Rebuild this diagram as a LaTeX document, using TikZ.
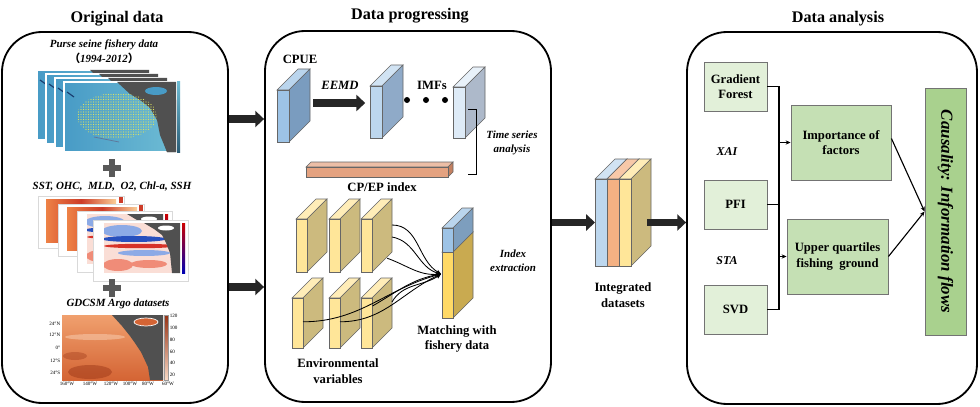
\documentclass[tikz,border=0pt]{standalone}
\usepackage{fontspec}
\setmainfont{Liberation Serif}
\newfontfamily\cjk{Noto Sans CJK SC}
\usetikzlibrary{arrows.meta,calc,fit}

\definecolor{inkdark}{RGB}{38,38,38}
\definecolor{cpueF}{RGB}{157,195,230}
\definecolor{cpueS}{RGB}{122,156,191}
\definecolor{imfaF}{RGB}{189,215,238}
\definecolor{imfaS}{RGB}{143,170,200}
\definecolor{imfcF}{RGB}{222,235,247}
\definecolor{imfcS}{RGB}{173,185,202}
\definecolor{barF}{RGB}{228,162,128}
\definecolor{barS}{RGB}{196,128,96}
\definecolor{yelF}{RGB}{255,230,153}
\definecolor{yelS}{RGB}{204,186,126}
\definecolor{matB}{RGB}{157,195,230}
\definecolor{matBS}{RGB}{125,158,190}
\definecolor{matY}{RGB}{255,217,102}
\definecolor{matYS}{RGB}{201,170,80}
\definecolor{intB}{RGB}{189,215,238}
\definecolor{intBS}{RGB}{150,175,200}
\definecolor{intO}{RGB}{244,177,131}
\definecolor{intOS}{RGB}{210,145,100}
\definecolor{grLight}{RGB}{226,240,217}
\definecolor{grMid}{RGB}{197,224,180}
\definecolor{grDark}{RGB}{169,209,142}
\definecolor{seaA}{RGB}{72,155,198}
\definecolor{seaB}{RGB}{110,188,212}
\definecolor{seaDark}{RGB}{25,60,110}
\definecolor{landgray}{RGB}{80,80,80}
\definecolor{dotyellow}{RGB}{222,228,95}
\definecolor{warmA}{RGB}{250,205,150}
\definecolor{warmB}{RGB}{238,130,70}
\definecolor{warmC}{RGB}{205,60,40}
\definecolor{anomBase}{RGB}{250,222,214}
\definecolor{anomBlue}{RGB}{40,80,190}
\definecolor{anomBlueL}{RGB}{140,170,230}
\definecolor{anomRed}{RGB}{215,50,40}
\definecolor{anomRedL}{RGB}{240,140,120}
\definecolor{argoA}{RGB}{240,160,110}
\definecolor{argoB}{RGB}{212,100,52}
\definecolor{argoC}{RGB}{150,50,20}
\definecolor{plusgray}{RGB}{89,89,89}

% 3d slab: name, x, y, width, height, depth, front colour, side colour
\newcommand{\slab}[8]{%
  \fill[#7!70!white,draw=black!60,line width=0.4pt] ({#2},{#3}) -- ++({#6},{-#6}) -- ++({#4},0) -- ++({-#6},{#6}) -- cycle;
  \fill[#8,draw=black!60,line width=0.4pt] ({#2+#4},{#3}) -- ++({#6},{-#6}) -- ++(0,{#5}) -- ++({-#6},{#6}) -- cycle;
  \node[draw=black!60,line width=0.4pt,fill=#7,inner sep=0pt,outer sep=0pt,anchor=north west,
        minimum width=#4*0.025cm,minimum height=#5*0.025cm] (#1) at ({#2},{#3}) {};
}

\begin{document}
\begin{tikzpicture}[x=0.025cm,y=-0.025cm,
    panel/.style={draw,line width=1.3pt,rounded corners=1cm,inner sep=0pt},
    title/.style={font=\fontsize{11.5}{13}\selectfont\bfseries},
    lab/.style={font=\fontsize{9}{11}\selectfont\bfseries,align=center},
    ital/.style={font=\fontsize{7.8}{10}\selectfont\bfseries\itshape,align=center},
    tick/.style={font=\fontsize{3.6}{4}\selectfont,inner sep=0.4pt},
    bigarrow/.style={draw=inkdark,line width=5pt,-{Triangle[length=0.22cm,width=0.4cm]}},
    box/.style={draw=black!55,line width=0.6pt,inner sep=1pt,align=center,font=\fontsize{9}{11}\selectfont\bfseries},
    arr/.style={line width=0.8pt,-{Stealth[length=3.5pt,width=3pt]}},
    plus/.style={draw=plusgray,line width=4.5pt},
  ]
  \useasboundingbox[fill=white] (0,0) rectangle (980,407);

  % panels
  \node[panel,fit={(2,32) (228,403)}] (orig) {};
  \node[panel,fit={(265,31) (551,402)}] (prog) {};
  \node[panel,fit={(687,32) (977,404)}] (ana) {};
  \node[title] (tOrig) at (117,19) {Original data};
  \node[title] (tProg) at (410,16) {Data progressing};
  \node[title] (tAna) at (838,19) {Data analysis};

  % original data
  \node[ital] (lPurse) at (104,45) {Purse seine fishery data};
  \node[ital] (lYears) at (104,58) {{\cjk （}1994-2012{\cjk ）}};
  \foreach \i in {0,...,3} {
    \pgfmathsetmacro\mx{37+9*\i}
    \pgfmathsetmacro\my{70+4*\i}
    \shade[left color=seaA,right color=seaB,draw=white,line width=0.8pt] (\mx,\my) rectangle (\mx+112,\my+70);
    \draw[seaDark,line width=0.8pt] (\mx+3,\my+10) -- (\mx+10,\my+15);
    \draw[seaDark!70,line width=0.5pt] (\mx+30,\my+55) -- (\mx+55,\my+60);
    \fill[landgray] (\mx+53,\my) -- (\mx+112,\my) -- (\mx+112,\my+70) -- (\mx+103,\my+70) -- (\mx+96,\my+53)
      -- (\mx+93,\my+38) -- (\mx+86,\my+26) -- (\mx+76,\my+18) -- (\mx+66,\my+12) -- cycle;
    \fill[seaA] (\mx+92,\my+9) ellipse [x radius=11,y radius=4];
  }
  \begin{scope}
    \clip (117,116) ellipse [x radius=40,y radius=23];
    \foreach \x in {76,78.5,...,158} \foreach \y in {92,94.5,...,140}
      \fill[dotyellow] (\x,\y) circle [radius=0.5pt];
  \end{scope}
  \fill[landgray] (150,100) -- (157,112) -- (160,130) -- (167,152) -- (176,152) -- (176,100) -- cycle;
  \shade[top color=seaB,bottom color=seaA!60!black] (177,82) rectangle (180,152);
  \draw[plus] (103,168) -- (121,168) (112,159) -- (112,177);

  \node[ital] (lVars) at (112,187) {SST, OHC, \ MLD, \ O2, Chl-a, SSH};
  \foreach \fx/\fy/\ix/\iy in {38/196/46/199, 58/204/67/207} {
    \fill[white,draw=black!15] (\fx,\fy) rectangle (\fx+86,\fy+52);
    \shade[left color=warmB,right color=warmA,middle color=warmC] (\ix,\iy) rectangle (\ix+70,\iy+43);
    \fill[warmC] (\fx+81,\fy+1) rectangle (\fx+85,\fy+7);
  }
  \foreach \fx/\fy/\ix/\iy in {77/211/87/214, 93/220/104/223} {
    \fill[white,draw=black!15] (\fx,\fy) rectangle (\fx+95,\fy+61);
    \begin{scope}
      \clip (\ix,\iy) rectangle (\ix+76,\iy+50);
      \fill[anomBase] (\ix,\iy) rectangle (\ix+76,\iy+50);
      \fill[anomBlueL] (\ix+18,\iy+8) ellipse [x radius=20,y radius=6];
      \fill[anomBlue] (\ix+30,\iy+16) ellipse [x radius=32,y radius=3];
      \fill[anomRed] (\ix+36,\iy+23) ellipse [x radius=36,y radius=2.2];
      \fill[anomBlueL] (\ix+40,\iy+30) ellipse [x radius=26,y radius=3];
      \fill[anomRedL] (\ix+14,\iy+42) ellipse [x radius=15,y radius=6];
      \fill[anomRedL] (\ix+45,\iy+41) ellipse [x radius=18,y radius=4];
      \fill[landgray] (\ix+40,\iy) -- (\ix+76,\iy) -- (\ix+76,\iy+50) -- (\ix+68,\iy+50) -- (\ix+66,\iy+30)
        -- (\ix+62,\iy+20) -- (\ix+58,\iy+12) -- (\ix+50,\iy+6) -- cycle;
      \fill[white] (\ix+62,\iy+5) ellipse [x radius=8,y radius=2.5];
    \end{scope}
    \shade[top color=red!80!black,middle color=white,bottom color=blue!70!black] (\ix+78,\iy) rectangle (\ix+81,\iy+50);
  }
  \draw[plus] (103,288) -- (121,288) (112,279) -- (112,297);

  \node[ital] (lArgo) at (118,304) {GDCSM Argo datasets};
  \shade[top color=argoA,bottom color=argoB] (62,315) rectangle (163,380);
  \fill[argoC,opacity=0.45] (90,372) ellipse [x radius=22,y radius=7];
  \fill[argoC,opacity=0.35] (75,356) ellipse [x radius=12,y radius=4];
  \fill[argoA!60!white,opacity=0.6] (95,337) ellipse [x radius=30,y radius=3];
  \fill[landgray] (112,315) -- (163,315) -- (163,380) -- (150,380) -- (148,367) -- (141,352) -- (135,343)
    -- (130,336) -- (122,326) -- cycle;
  \fill[argoB,draw=white,line width=0.5pt] (146,322) ellipse [x radius=12,y radius=4];
  \shade[top color=argoC,bottom color=argoA!40!white,draw=black!40,line width=0.3pt] (164,315) rectangle (168,380);
  \foreach \lab/\yy [count=\k] in {24°N/324,12°N/335,0°/348,12°S/361,24°S/373}
    \node[tick,anchor=east] (argoY\k) at (61,\yy) {\lab};
  \foreach \lab/\xx [count=\k] in {160°W/67,140°W/90,120°W/111,100°W/130,80°W/148,60°W/168}
    \node[tick] (argoX\k) at (\xx,384) {\lab};
  \foreach \lab/\yy [count=\k] in {120/316,100/328,80/340,60/352,40/363,20/375}
    \node[tick,anchor=west] (argoC\k) at (169,\yy) {\lab};

  % data progressing
  \slab{cpue}{277}{90}{12}{52}{21}{cpueF}{cpueS}
  \slab{imfa}{370}{86}{12}{52}{21}{imfaF}{imfaS}
  \slab{imfc}{453}{87}{12}{51}{20}{imfcF}{imfcS}
  \slab{cpep}{306}{167}{142}{10}{5}{barF}{barS}
  \node[lab] (lCpue) at (300,59) {CPUE};
  \node[ital,font=\fontsize{9}{10}\selectfont\bfseries\itshape] (lEemd) at (340,85) {EEMD};
  \node[lab] (lImfs) at (432,85) {IMFs};
  \coordinate (eA) at (313,103);
  \draw[bigarrow] (eA) -- ([xshift=-0.12cm]eA -| imfa.west);
  \foreach \dx in {407,426,445}
    \fill (\dx,100) circle [radius=0.075cm];
  \coordinate (bkA) at (468,109);
  \coordinate (bkB) at (468,174);
  \draw[line width=0.7pt] (bkA) -- ++(8,0) |- (bkB);
  \node[ital] (lTsa) at (512,143) {Time series\\analysis};
  \node[lab] (lCpep) at (382,187) {CP/EP index};

  \slab{ea1}{296}{219}{11}{53}{20}{yelF}{yelS}
  \slab{ea2}{329}{219}{11}{53}{20}{yelF}{yelS}
  \slab{ea3}{361}{219}{11}{53}{20}{yelF}{yelS}
  \slab{eb1}{292}{298}{11}{50}{20}{yelF}{yelS}
  \slab{eb2}{329}{298}{11}{50}{20}{yelF}{yelS}
  \slab{eb3}{361}{298}{11}{50}{20}{yelF}{yelS}
  \slab{my}{442}{252}{11}{66}{20}{matY}{matYS}
  \slab{mb}{442}{228}{11}{24}{20}{matB}{matBS}
  \coordinate (tg) at (441,274);
  \draw[arr,line width=0.6pt] ([xshift=0.5cm,yshift=-0.15cm]ea3.north east) to[out=0,in=150] (tg);
  \draw[arr,line width=0.6pt] ([xshift=0.5cm,yshift=-0.45cm]ea3.north east) to[out=-10,in=165] (tg);
  \draw[arr,line width=0.6pt] ([xshift=0.38cm,yshift=-0.98cm]ea3.north east) to[out=-20,in=185] (tg);
  \draw[arr,line width=0.6pt] ([yshift=0.03cm]eb1.east) to[out=0,in=195] (tg);
  \draw[arr,line width=0.6pt] ([yshift=0.03cm]eb2.east) to[out=0,in=205] (tg);
  \draw[arr,line width=0.6pt] ([xshift=0.15cm,yshift=-0.2cm]eb3.north) to[out=30,in=190] (tg);
  \draw[arr,line width=0.6pt] ([xshift=0.5cm,yshift=-0.1cm]eb3.north east) to[out=60,in=215] (tg);
  \node[ital] (lIdx) at (513,261) {Index\\extraction};
  \node[lab] (lMatch) at (457,339) {Matching with\\fishery data};
  \node[lab] (lEnv) at (338,371) {Environmental\\variables};

  % integrated datasets
  \slab{ia}{595}{179}{12}{87}{20}{intB}{intBS}
  \slab{ib}{607}{179}{12}{87}{20}{intO}{intOS}
  \slab{ic}{619}{179}{12}{87}{20}{yelF}{yelS}
  \node[lab] (lInteg) at (623,295) {Integrated\\datasets};

  % big arrows
  \coordinate (rA) at (0,119);
  \coordinate (rB) at (0,287);
  \draw[bigarrow] (orig.east |- rA) -- (prog.west |- rA);
  \draw[bigarrow] (orig.east |- rB) -- (prog.west |- rB);
  \draw[bigarrow] (prog.east |- ia.west) -- (ia.west);
  \draw[bigarrow] ([xshift=0.4cm]ic.east) -- (ana.west |- ic.east);

  % data analysis
  \node[box,fill=grLight,minimum width=1.575cm,minimum height=1.225cm] (gf) at (735.5,86.5) {Gradient\\Forest};
  \node[box,fill=grLight,minimum width=1.575cm,minimum height=1.225cm] (pfi) at (735.5,204.5) {PFI};
  \node[box,fill=grLight,minimum width=1.575cm,minimum height=1.225cm] (svd) at (735.5,309.5) {SVD};
  \node[ital,font=\fontsize{8.5}{10}\selectfont\bfseries\itshape] (xai) at (727,152) {XAI};
  \node[ital,font=\fontsize{8.5}{10}\selectfont\bfseries\itshape] (sta) at (727,261) {STA};
  \node[box,fill=grMid,minimum width=2.5cm,minimum height=1.875cm] (imp) at (841,142.5) {Importance of\\factors};
  \node[box,fill=grMid,minimum width=2.525cm,minimum height=1.875cm] (upq) at (837.5,256.5) {Upper quartiles\\fishing \ ground};
  \node[box,fill=grDark,rotate=-90,minimum width=6.175cm,minimum height=1.025cm,
        font=\fontsize{12}{14}\selectfont\bfseries\itshape] (caus) at (945.5,211.5) {Causality: Information flows};
  \coordinate (bus) at (779,0);
  \draw[line width=0.8pt] (gf.east) -- (gf.east -| bus) -- (svd.east -| bus) -- (svd.east);
  \draw[line width=0.8pt] (pfi.east) -- (pfi.east -| bus);
  \draw[arr] (imp.west -| bus) -- (imp.west);
  \draw[arr] (upq.west -| bus) -- (upq.west);
  \draw[arr] ([yshift=0.1cm]imp.east) -- (caus.south);
  \draw[arr] (upq.east) -- (caus.south);
\end{tikzpicture}
\end{document}
